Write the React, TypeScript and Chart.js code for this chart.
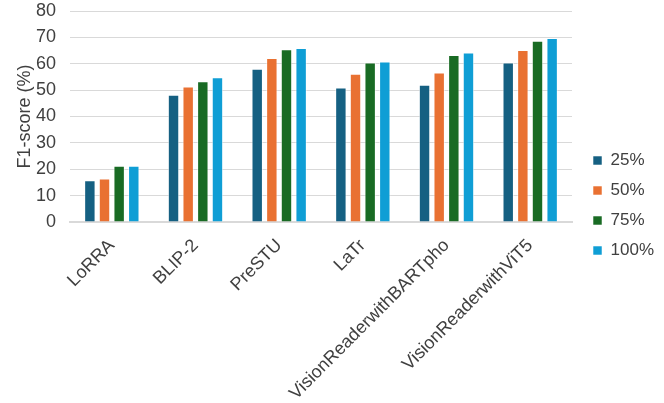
import { useEffect, useRef } from "react";
import { Chart, ChartItem, registerables } from "chart.js";

Chart.register(...registerables);

const models = ["LoRRA", "BLIP-2", "PreSTU", "LaTr", "VisionReaderwithBARTpho", "VisionReaderwithViT5"];
const seriesNames = ["25%", "50%", "75%", "100%"];
const f1At25 = [15.8, 48.2, 58.1, 51.0, 52.0, 60.5];
const f1At50 = [16.5, 51.4, 62.2, 56.2, 56.7, 65.2];
const f1At75 = [21.3, 53.4, 65.5, 60.5, 63.3, 68.7];
const f1At100 = [21.3, 54.9, 66.0, 60.9, 64.3, 69.8];
const seriesColors = ["#156082", "#e97132", "#196b24", "#0f9ed5"];

const textColor = "#404040";
const fontFamily = "'Liberation Sans', Arial, sans-serif";

// nudge the legend a little right/down without touching the plot area
const nudgeLegend = {
  id: "nudgeLegend",
  afterLayout(chart: any) {
    const l = chart.legend;
    if (!l) return;
    l.left += 8;
    l.right += 8;
    l.top += 4;
    l.bottom += 4;
  },
};

const F1Chart = () => {
  const chartRef = useRef<HTMLCanvasElement>(null);

  useEffect(() => {
    if (!chartRef.current) return;
    const ctx = chartRef.current.getContext("2d");
    const values = [f1At25, f1At50, f1At75, f1At100];

    const myChart = new Chart(ctx as ChartItem, {
      type: "bar",
      data: {
        labels: models,
        datasets: seriesNames.map((name, i) => ({
          label: name,
          data: values[i],
          backgroundColor: seriesColors[i],
          borderColor: "rgba(255,255,255,0.55)",
          borderWidth: 1,
          categoryPercentage: 0.7,
          barPercentage: 0.78,
        })),
      },
      plugins: [nudgeLegend],
      options: {
        responsive: false,
        animation: false,
        layout: { padding: { top: 0, right: 8, bottom: 0, left: 0 } },
        plugins: {
          legend: {
            position: "right",
            labels: {
              boxWidth: 9,
              boxHeight: 9,
              padding: 13,
              color: textColor,
              font: { family: fontFamily, size: 17 },
            },
          },
          tooltip: { enabled: false },
        },
        scales: {
          x: {
            grid: { display: false },
            border: { color: "#d9d9d9", width: 2 },
            ticks: {
              color: textColor,
              font: { family: fontFamily, size: 18 },
              minRotation: 45,
              maxRotation: 45,
              padding: 5,
            },
            afterFit: (scale: any) => {
              scale.height = 181;
            },
          },
          y: {
            min: 0,
            max: 80,
            border: { display: false },
            grid: { color: "#d9d9d9", lineWidth: 1, drawTicks: false },
            ticks: {
              stepSize: 10,
              color: textColor,
              font: { family: fontFamily, size: 18 },
              padding: 14,
            },
            title: {
              display: true,
              text: "F1-score (%)",
              color: textColor,
              font: { family: fontFamily, size: 18 },
              padding: { top: 14, bottom: 0 },
            },
            afterFit: (scale: any) => {
              scale.width = 70;
              scale.paddingTop = 11;
            },
          },
        },
      },
    });

    return () => {
      myChart.destroy();
    };
  }, []);

  return <canvas ref={chartRef} width={664} height={403} style={{ display: "block" }} />;
};

export default function App() {
  return (
    <div style={{ position: "fixed", left: 0, top: 0, width: 664, height: 403, background: "#fff" }}>
      <F1Chart />
    </div>
  );
}
